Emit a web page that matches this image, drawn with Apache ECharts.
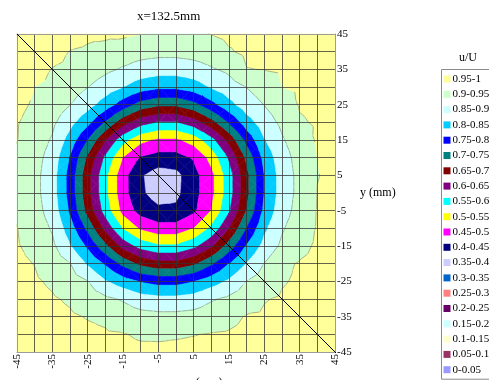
<!DOCTYPE html>
<html>
<head>
<meta charset="utf-8">
<script src="https://cdn.jsdelivr.net/npm/echarts@6/dist/echarts.min.js"></script>
<style>
  html, body { margin: 0; padding: 0; background: #fff; }
  #main { width: 489px; height: 380px; }
</style>
</head>
<body>
<div id="main"></div>
<script>
// grid nodes (mm)
const xValues = [-45, -40, -35, -30, -25, -20, -15, -10, -5, 0, 5, 10, 15, 20, 25, 30, 35, 40, 45];
const yValues = [45, 40, 35, 30, 25, 20, 15, 10, 5, 0, -5, -10, -15, -20, -25, -30, -35, -40, -45];
const tickLabels = [-45, -35, -25, -15, -5, 5, 15, 25, 35, 45];

// u/U, one row per y (top to bottom), one column per x
const uValues = [
  [0.975, 0.971, 0.967, 0.963, 0.955, 0.957, 0.958, 0.950, 0.946, 0.944, 0.946, 0.951, 0.958, 0.958, 0.963, 0.967, 0.971, 0.975, 0.978],
  [0.971, 0.966, 0.961, 0.949, 0.946, 0.938, 0.926, 0.918, 0.914, 0.914, 0.918, 0.926, 0.947, 0.957, 0.959, 0.961, 0.966, 0.971, 0.975],
  [0.967, 0.961, 0.949, 0.945, 0.926, 0.910, 0.895, 0.880, 0.872, 0.872, 0.880, 0.895, 0.910, 0.949, 0.951, 0.954, 0.961, 0.967, 0.972],
  [0.963, 0.950, 0.945, 0.922, 0.901, 0.877, 0.851, 0.824, 0.810, 0.810, 0.826, 0.855, 0.880, 0.901, 0.922, 0.950, 0.955, 0.963, 0.969],
  [0.958, 0.946, 0.926, 0.901, 0.869, 0.827, 0.776, 0.729, 0.708, 0.708, 0.733, 0.783, 0.834, 0.877, 0.901, 0.926, 0.953, 0.958, 0.966],
  [0.952, 0.938, 0.910, 0.866, 0.815, 0.744, 0.670, 0.619, 0.596, 0.596, 0.625, 0.681, 0.754, 0.828, 0.878, 0.910, 0.946, 0.954, 0.963],
  [0.951, 0.926, 0.895, 0.830, 0.747, 0.652, 0.567, 0.513, 0.491, 0.491, 0.521, 0.581, 0.665, 0.764, 0.847, 0.895, 0.926, 0.955, 0.960],
  [0.946, 0.918, 0.880, 0.796, 0.690, 0.589, 0.498, 0.445, 0.430, 0.430, 0.455, 0.516, 0.605, 0.711, 0.816, 0.880, 0.918, 0.950, 0.958],
  [0.943, 0.914, 0.872, 0.780, 0.665, 0.560, 0.468, 0.405, 0.375, 0.385, 0.432, 0.486, 0.576, 0.686, 0.800, 0.872, 0.914, 0.949, 0.957],
  [0.943, 0.914, 0.872, 0.780, 0.665, 0.560, 0.468, 0.408, 0.378, 0.388, 0.432, 0.486, 0.576, 0.686, 0.800, 0.872, 0.914, 0.951, 0.957],
  [0.946, 0.918, 0.880, 0.792, 0.681, 0.577, 0.483, 0.430, 0.410, 0.410, 0.440, 0.501, 0.593, 0.702, 0.812, 0.880, 0.918, 0.952, 0.958],
  [0.951, 0.926, 0.895, 0.824, 0.735, 0.635, 0.546, 0.492, 0.470, 0.470, 0.500, 0.560, 0.648, 0.751, 0.840, 0.895, 0.926, 0.953, 0.960],
  [0.953, 0.938, 0.910, 0.854, 0.791, 0.712, 0.630, 0.579, 0.556, 0.556, 0.585, 0.641, 0.722, 0.804, 0.866, 0.910, 0.938, 0.956, 0.963],
  [0.958, 0.949, 0.926, 0.901, 0.844, 0.794, 0.734, 0.687, 0.666, 0.666, 0.691, 0.741, 0.800, 0.852, 0.901, 0.942, 0.953, 0.958, 0.966],
  [0.963, 0.955, 0.944, 0.922, 0.901, 0.854, 0.823, 0.796, 0.782, 0.782, 0.798, 0.827, 0.858, 0.901, 0.922, 0.947, 0.955, 0.963, 0.969],
  [0.967, 0.961, 0.954, 0.945, 0.926, 0.910, 0.895, 0.872, 0.864, 0.864, 0.872, 0.895, 0.910, 0.926, 0.948, 0.954, 0.961, 0.967, 0.972],
  [0.971, 0.966, 0.961, 0.955, 0.948, 0.943, 0.926, 0.918, 0.914, 0.914, 0.918, 0.926, 0.938, 0.953, 0.955, 0.961, 0.966, 0.971, 0.975],
  [0.975, 0.971, 0.967, 0.963, 0.958, 0.954, 0.952, 0.945, 0.945, 0.947, 0.949, 0.952, 0.954, 0.958, 0.963, 0.967, 0.971, 0.975, 0.978],
  [0.978, 0.975, 0.972, 0.969, 0.966, 0.963, 0.960, 0.958, 0.957, 0.957, 0.958, 0.960, 0.963, 0.966, 0.969, 0.972, 0.975, 0.978, 0.981]
];

// contour bands, low to high
const bandEdges = [0, 0.05, 0.1, 0.15, 0.2, 0.25, 0.3, 0.35, 0.4, 0.45, 0.5, 0.55, 0.6, 0.65, 0.7, 0.75, 0.8, 0.85, 0.9, 0.95, 1];
const bandLabels = ['0-0.05', '0.05-0.1', '0.1-0.15', '0.15-0.2', '0.2-0.25', '0.25-0.3', '0.3-0.35', '0.35-0.4', '0.4-0.45', '0.45-0.5',
  '0.5-0.55', '0.55-0.6', '0.6-0.65', '0.65-0.7', '0.7-0.75', '0.75-0.8', '0.8-0.85', '0.85-0.9', '0.9-0.95', '0.95-1'];
const bandColors = ['#9999FF', '#993366', '#FFFFCC', '#CCFFFF', '#660066', '#FF8080', '#0066CC', '#CCCCFF', '#000080', '#FF00FF',
  '#FFFF00', '#00FFFF', '#800080', '#800000', '#008080', '#0000FF', '#00CCFF', '#CCFFFF', '#CCFFCC', '#FFFF99'];
const outlineLevels = [0.9, 0.95];

// diagonal traverse drawn over the map
const diagonal = [[-45, 45], [48, -48]];

const FONT = 'Liberation Serif';

// keep the part of a polygon (points [px, py, value]) above / below level t
function clipPoly(poly, t, above) {
  const out = [];
  for (let i = 0; i < poly.length; i++) {
    const a = poly[i], b = poly[(i + 1) % poly.length];
    const ina = above ? a[2] >= t : a[2] <= t;
    const inb = above ? b[2] >= t : b[2] <= t;
    if (ina) out.push(a);
    if (ina !== inb) {
      const f = (t - a[2]) / (b[2] - a[2]);
      out.push([a[0] + f * (b[0] - a[0]), a[1] + f * (b[1] - a[1]), t]);
    }
  }
  return out;
}

function renderCell(params, api) {
  const c = api.value(2), r = api.value(3);
  const corners = [[c, r], [c + 1, r], [c + 1, r + 1], [c, r + 1]].map(function (ij) {
    const p = api.coord([xValues[ij[0]], yValues[ij[1]]]);
    return [p[0], p[1], uValues[ij[1]][ij[0]]];
  });
  const mid = [0, 1, 2].map(function (k) {
    return (corners[0][k] + corners[1][k] + corners[2][k] + corners[3][k]) / 4;
  });
  const last = bandColors.length - 1;
  const children = [];
  for (let t = 0; t < 4; t++) {
    const tri = [corners[t], corners[(t + 1) % 4], mid];
    const vals = tri.map(function (p) { return p[2]; });
    const vmin = Math.min.apply(null, vals), vmax = Math.max.apply(null, vals);
    for (let k = 0; k <= last; k++) {
      const lo = bandEdges[k], hi = bandEdges[k + 1];
      if (k > 0 && vmax < lo) continue;
      if (k < last && vmin >= hi) continue;
      let poly = tri;
      if (k > 0) poly = clipPoly(poly, lo, true);
      if (k < last && poly.length) poly = clipPoly(poly, hi, false);
      if (poly.length < 3) continue;
      children.push({
        type: 'polygon',
        shape: { points: poly.map(function (p) { return [p[0], p[1]]; }) },
        style: { fill: bandColors[k], stroke: bandColors[k], lineWidth: 0.6 }
      });
    }
    outlineLevels.forEach(function (level) {
      const pts = [];
      for (let e = 0; e < 3; e++) {
        const a = tri[e], b = tri[(e + 1) % 3];
        if ((a[2] - level) * (b[2] - level) < 0) {
          const f = (level - a[2]) / (b[2] - a[2]);
          pts.push([a[0] + f * (b[0] - a[0]), a[1] + f * (b[1] - a[1])]);
        }
      }
      if (pts.length === 2) {
        children.push({
          type: 'line',
          shape: { x1: pts[0][0], y1: pts[0][1], x2: pts[1][0], y2: pts[1][1] },
          style: { stroke: 'rgba(110,120,110,0.7)', lineWidth: 0.8 }
        });
      }
    });
  }
  return { type: 'group', children: children };
}

const cells = [];
for (let r = 0; r < yValues.length - 1; r++) {
  for (let c = 0; c < xValues.length - 1; c++) {
    cells.push([xValues[c], yValues[r], c, r]);
  }
}

function tickText(v) {
  return tickLabels.indexOf(v) >= 0 ? String(v) : '';
}

const frameLine = { show: true, onZero: false, lineStyle: { color: '#9c9c9c', width: 1 } };
const gridLine = { show: true, showMinLine: false, showMaxLine: false, lineStyle: { color: '#303030', width: 1, opacity: 0.75 } };

const chart = echarts.init(document.getElementById('main'));
chart.setOption({
  animation: false,
  backgroundColor: '#fff',
  title: [
    { text: 'x=132.5mm', left: 132, top: 5, textStyle: { fontFamily: FONT, fontSize: 13, fontWeight: 'normal', color: '#000' } },
    { text: 'u/U', left: 454, top: 47, textStyle: { fontFamily: FONT, fontSize: 12, fontWeight: 'normal', color: '#000' } }
  ],
  grid: { left: 17, top: 34, width: 318, height: 318, containLabel: false, outerBoundsMode: 'none' },
  xAxis: [{
    type: 'value', min: -45, max: 45, interval: 5, position: 'bottom', z: 5,
    name: 'z (mm)', nameLocation: 'middle', nameGap: 18,
    nameTextStyle: { fontFamily: FONT, fontSize: 12, color: '#000', padding: [0, 0, 0, 58] },
    axisLine: frameLine,
    axisTick: { show: false },
    axisLabel: { rotate: 90, margin: 2, fontFamily: FONT, fontSize: 11, color: '#000', formatter: tickText },
    splitLine: gridLine
  }, {
    type: 'value', min: -45, max: 45, position: 'top', z: 5,
    axisLine: frameLine, axisTick: { show: false }, axisLabel: { show: false }, splitLine: { show: false }
  }],
  yAxis: [{
    type: 'value', min: -45, max: 45, interval: 5, position: 'right', z: 5,
    name: 'y (mm)', nameLocation: 'middle', nameRotate: 0, nameGap: 25,
    nameTextStyle: { fontFamily: FONT, fontSize: 12, color: '#000', padding: [4, 0, 0, 0] },
    axisLine: frameLine,
    axisTick: { show: false },
    axisLabel: { margin: 2, fontFamily: FONT, fontSize: 11, color: '#000', formatter: tickText },
    splitLine: gridLine
  }, {
    type: 'value', min: -45, max: 45, position: 'left', z: 5,
    axisLine: frameLine, axisTick: { show: false }, axisLabel: { show: false }, splitLine: { show: false }
  }],
  visualMap: {
    type: 'piecewise',
    seriesIndex: [],
    selectedMode: false,
    orient: 'vertical',
    align: 'left',
    left: 441, top: 69,
    itemWidth: 7, itemHeight: 7, itemGap: 4.3, itemSymbol: 'rect',
    textGap: 2,
    padding: [4, 30, 4, 2],
    borderColor: '#8a8a8a', borderWidth: 1,
    textStyle: { fontFamily: FONT, fontSize: 11, color: '#000' },
    pieces: bandLabels.map(function (label, k) {
      return { gte: bandEdges[k], lt: bandEdges[k + 1], label: label, color: bandColors[k] };
    })
  },
  series: [{
    type: 'custom',
    coordinateSystem: 'cartesian2d',
    xAxisIndex: 0, yAxisIndex: 0,
    z: 1,
    silent: true,
    progressive: 0,
    renderItem: renderCell,
    data: cells
  }, {
    type: 'line',
    xAxisIndex: 0, yAxisIndex: 0,
    z: 10,
    silent: true,
    clip: false,
    symbol: 'none',
    lineStyle: { color: '#000', width: 1 },
    data: diagonal
  }]
});
</script>
</body>
</html>
